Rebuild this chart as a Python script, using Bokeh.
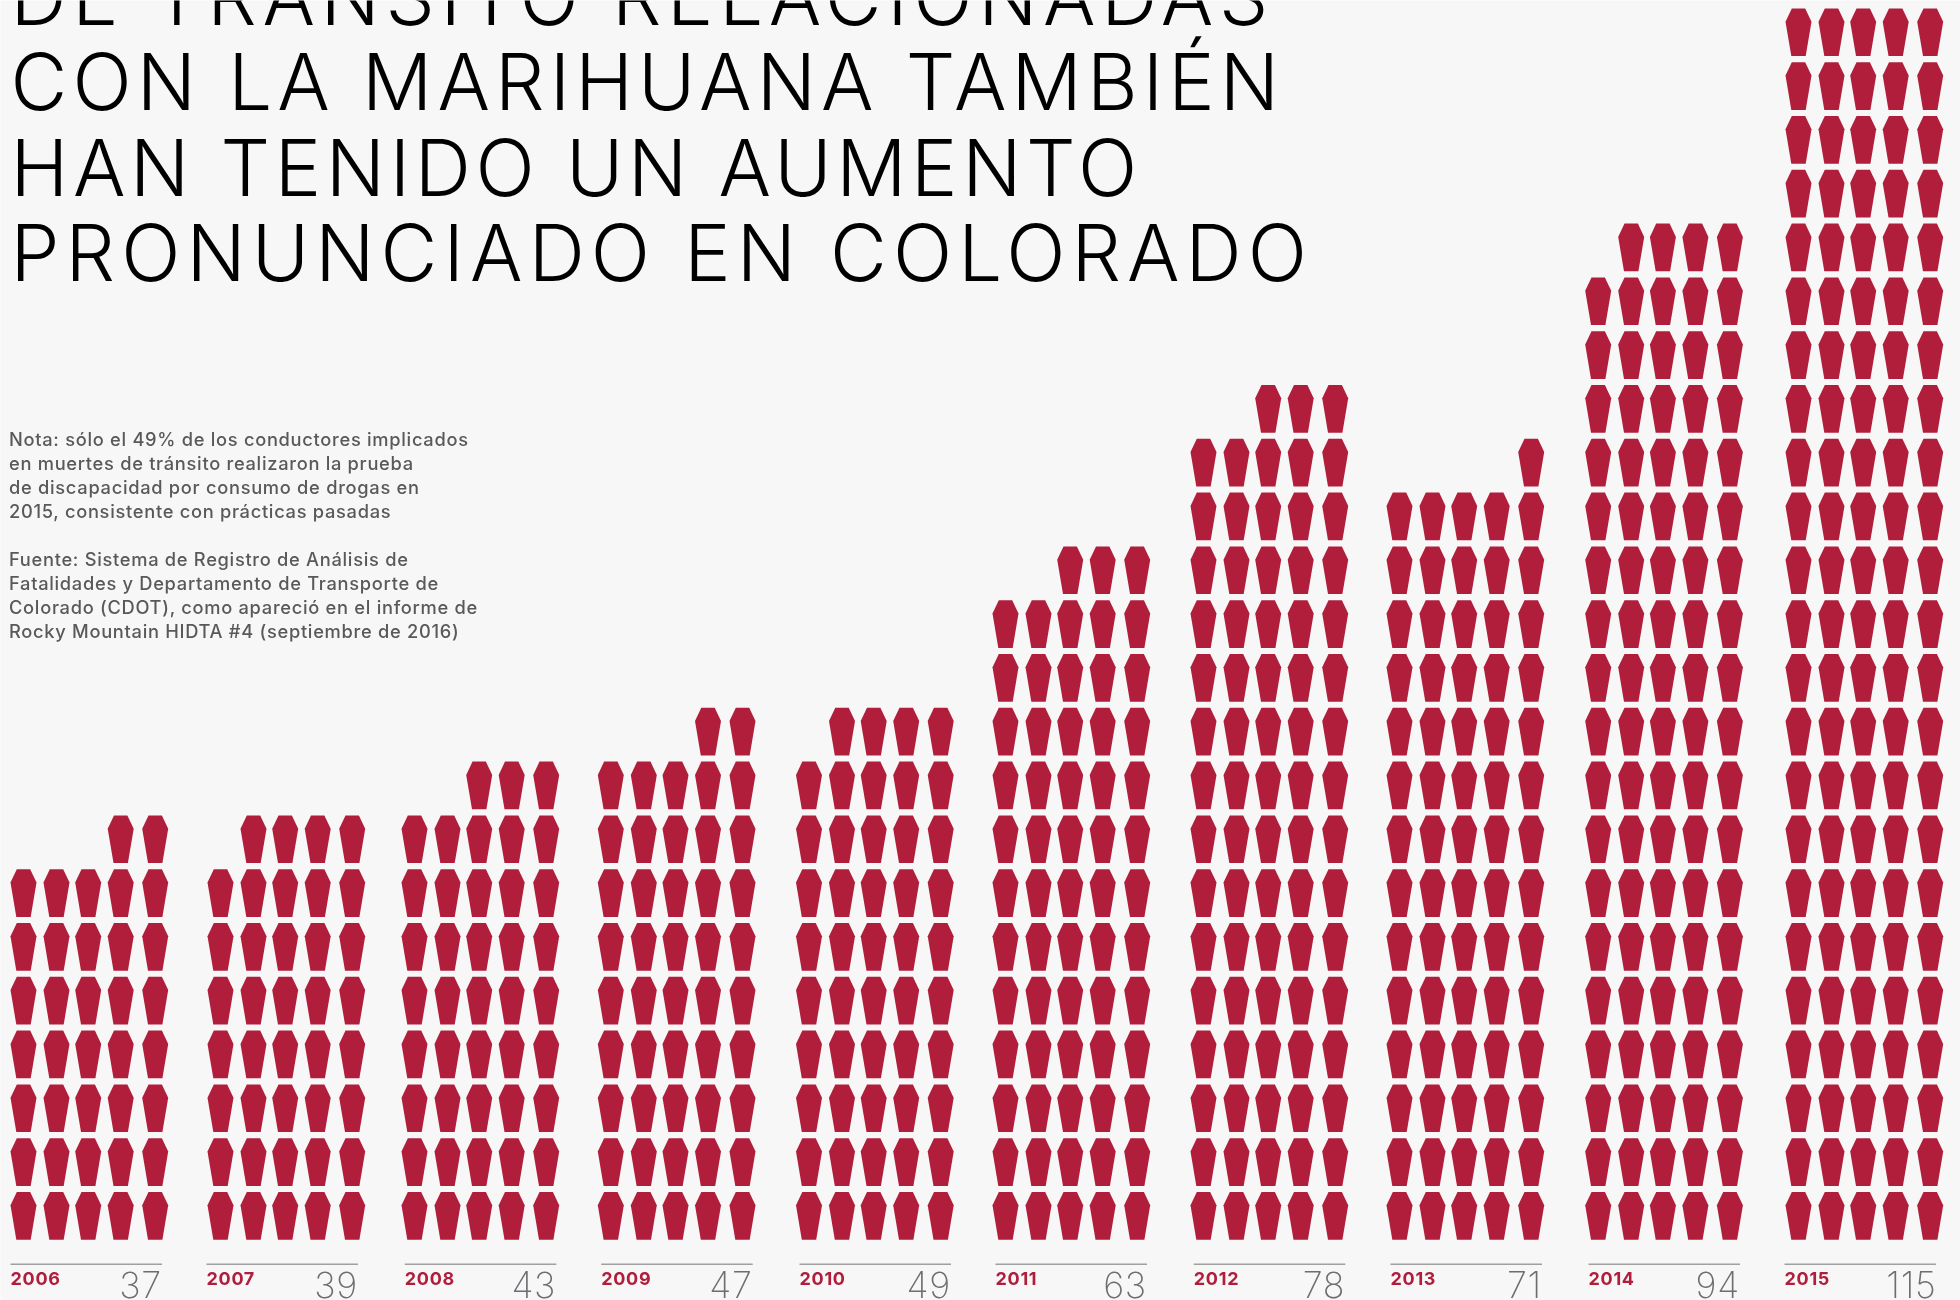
from bokeh.plotting import figure
from bokeh.layouts import column
from bokeh.models import Range1d
from bokeh.core.properties import value
from bokeh.embed import file_html
from bokeh.resources import INLINE

years = ["2006","2007","2008","2009","2010","2011","2012","2013","2014","2015"]
totals = [37,39,43,47,49,63,78,71,94,115]
title_lines = ["DE TRÁNSITO RELACIONADAS","CON LA MARIHUANA TAMBIÉN","HAN TENIDO UN AUMENTO","PRONUNCIADO EN COLORADO"]
note_lines = ["Nota: sólo el 49% de los conductores implicados","en muertes de tránsito realizaron la prueba",
 "de discapacidad por consumo de drogas en","2015, consistente con prácticas pasadas","",
 "Fuente: Sistema de Registro de Análisis de","Fatalidades y Departamento de Transporte de",
 "Colorado (CDOT), como apareció en el informe de","Rocky Mountain HIDTA #4 (septiembre de 2016)"]

RED="#b01e3c"; BG="#f7f7f7"
group_left=[10,207,401,597.3,795.5,992,1190,1386,1584.7,1785]
rule_left=[10,206,404.3,600.7,799,995,1193.3,1390,1588,1784]
col_off=[0,33,64.7,97.2,131.7]
ROW=53.8; BOTTOM_TOP=1191.5
W=26; H=47.7

def make(spacing,alpha):
    f=figure(width=1960,height=1300,x_range=Range1d(0,1960),y_range=Range1d(1300,0),
             output_backend="svg",toolbar_location=None,min_border=0,
             background_fill_color=BG,border_fill_color=BG,outline_line_color=None,
             background_fill_alpha=alpha,border_fill_alpha=alpha,
             styles={"position":"fixed","left":"0px","top":"0px","letter-spacing":spacing})
    f.axis.visible=False; f.grid.visible=False
    return f

chart=make("0.7px",1)

xs=[];ys=[]
for g,t in enumerate(totals):
    for i in range(t):
        k=i+(5-t%5)%5
        row=(t+(5-t%5)%5-1-k)//5
        col=k%5
        x=group_left[g]+col_off[col]; y=BOTTOM_TOP-row*ROW
        c=x+W/2
        xs.append([c-6.7,c+6.7,c+13,c+7.2,c-7.2,c-13])
        ys.append([y,y,y+13.3,y+H,y+H,y+13.3])
chart.patches(xs,ys,fill_color=RED,line_color=None)

B=0.385
def lift(y,s): return y-B*s

# each title line gets its own tracking, so it ends where the reference's does
title_base=[26,111,196.7,282]
title_track=["5.67px","5.13px","4.65px","6.1px"]
heads=[]
for line,b,tr in zip(title_lines,title_base,title_track):
    h=make(tr,0)
    h.text([10],[lift(b,78)],text=[line],text_font=value("Inter Light"),text_font_size="78px",text_color="#000000",text_baseline="alphabetic")
    heads.append(h)

ny=[446,470,494,518,542,566,590,614,638]
chart.text([8.5]*9,[lift(b,18.3) for b in ny],text=note_lines,text_font=value("Inter Medium"),text_font_size="18.3px",text_color="#58595b",text_baseline="alphabetic")

chart.segment(rule_left,[1263.7]*10,[l+151.5 for l in rule_left],[1263.7]*10,line_color="#a0a0a0",line_width=1.5)
chart.text(rule_left,[lift(1285,18)]*10,text=years,text_font=value("Inter"),text_font_style="bold",text_font_size="18px",text_color=RED,text_baseline="alphabetic")
chart.text([l+150 for l in rule_left],[lift(1297.5,36)]*10,text=[str(t) for t in totals],text_font=value("Inter ExtraLight"),text_font_size="36px",text_color="#6d6e71",text_align="right",text_baseline="alphabetic")

p=column(chart,*heads)
open("out.html","w").write(file_html(p,INLINE))
